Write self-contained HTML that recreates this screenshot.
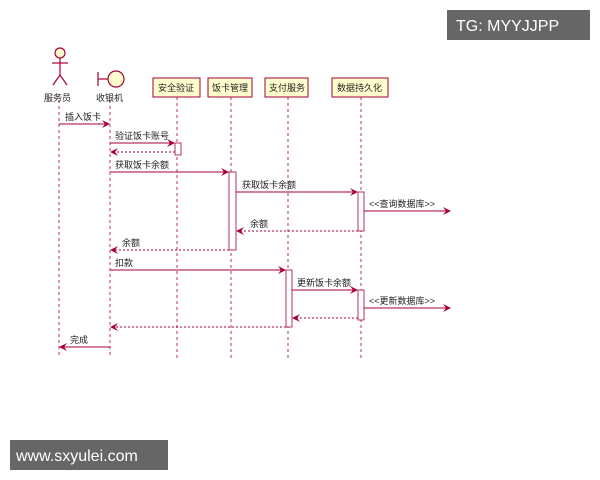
<!DOCTYPE html>
<html><head><meta charset="utf-8"><style>
html,body{margin:0;padding:0;background:#fff;width:600px;height:480px;overflow:hidden}
svg{display:block}
text{font-family:"Liberation Sans","Noto Sans CJK SC",sans-serif;font-size:9px;fill:#222}
</style></head><body>
<svg width="600" height="480" viewBox="0 0 600 480">
<defs>
<marker id="a" markerWidth="8" markerHeight="8" refX="7" refY="4" orient="auto" markerUnits="userSpaceOnUse">
<path d="M0,0 L8,4 L0,8 L3,4 Z" fill="#A80036"/></marker>
</defs>
<g stroke="#A80036" stroke-width="0.8" stroke-dasharray="3,3" fill="none">
<line x1="59" y1="100" x2="59" y2="358"/>
<line x1="110" y1="100" x2="110" y2="358"/>
<line x1="177" y1="97" x2="177" y2="358"/>
<line x1="231" y1="97" x2="231" y2="358"/>
<line x1="288" y1="97" x2="288" y2="358"/>
<line x1="361" y1="97" x2="361" y2="358"/>
</g>
<g stroke="#A80036" stroke-width="1.2" fill="none">
<circle cx="60" cy="53" r="5" fill="#FEFECE"/>
<line x1="60" y1="58" x2="60" y2="75"/>
<line x1="52" y1="63" x2="68" y2="63"/>
<line x1="60" y1="75" x2="53" y2="85"/>
<line x1="60" y1="75" x2="67" y2="85"/>
<line x1="98" y1="72" x2="98" y2="86"/>
<line x1="98" y1="79" x2="108" y2="79"/>
<circle cx="116" cy="79" r="8" fill="#FEFECE"/>
</g>
<text x="44" y="101">服务员</text>
<text x="96" y="101">收银机</text>
<g fill="#FEFECE" stroke="#A80036" stroke-width="1">
<rect x="153" y="78" width="47" height="19"/>
<rect x="208" y="78" width="44" height="19"/>
<rect x="265" y="78" width="43" height="19"/>
<rect x="332" y="78" width="56" height="19"/>
</g>
<text x="158" y="91">安全验证</text>
<text x="212" y="91">饭卡管理</text>
<text x="269" y="91">支付服务</text>
<text x="337" y="91">数据持久化</text>
<g fill="#fff" stroke="#A80036" stroke-width="0.8">
<rect x="175" y="143" width="6" height="12"/>
<rect x="229" y="172" width="7" height="78"/>
<rect x="358" y="192" width="6" height="39"/>
<rect x="286" y="270" width="6" height="57"/>
<rect x="358" y="290" width="6" height="30"/>
</g>
<g stroke="#A80036" stroke-width="0.9" fill="none" marker-end="url(#a)">
<line x1="59" y1="124" x2="109" y2="124"/>
<line x1="110" y1="143" x2="174" y2="143"/>
<line x1="175" y1="152" x2="111" y2="152" stroke-dasharray="2,2"/>
<line x1="110" y1="172" x2="228" y2="172"/>
<line x1="236" y1="192" x2="357" y2="192"/>
<line x1="364" y1="211" x2="450" y2="211"/>
<line x1="358" y1="231" x2="237" y2="231" stroke-dasharray="2,2"/>
<line x1="229" y1="250" x2="111" y2="250" stroke-dasharray="2,2"/>
<line x1="110" y1="270" x2="285" y2="270"/>
<line x1="292" y1="290" x2="357" y2="290"/>
<line x1="364" y1="308" x2="450" y2="308"/>
<line x1="358" y1="318" x2="293" y2="318" stroke-dasharray="2,2"/>
<line x1="286" y1="327" x2="111" y2="327" stroke-dasharray="2,2"/>
<line x1="110" y1="347" x2="60" y2="347"/>
</g>
<text x="65" y="120">插入饭卡</text>
<text x="115" y="139">验证饭卡账号</text>
<text x="115" y="168">获取饭卡余额</text>
<text x="242" y="188">获取饭卡余额</text>
<text x="369" y="207">&lt;&lt;查询数据库&gt;&gt;</text>
<text x="250" y="227">余额</text>
<text x="122" y="246">余额</text>
<text x="115" y="266">扣款</text>
<text x="297" y="286">更新饭卡余额</text>
<text x="369" y="304">&lt;&lt;更新数据库&gt;&gt;</text>
<text x="70" y="343">完成</text>
<rect x="447" y="10" width="143" height="30" fill="#555" opacity="0.9"/>
<text x="456" y="31" style="font-size:16px;fill:#fff">TG: MYYJJPP</text>
<rect x="10" y="440" width="158" height="30" fill="#555" opacity="0.9"/>
<text x="16" y="461" style="font-size:16px;fill:#fff">www.sxyulei.com</text>
</svg>
</body></html>
